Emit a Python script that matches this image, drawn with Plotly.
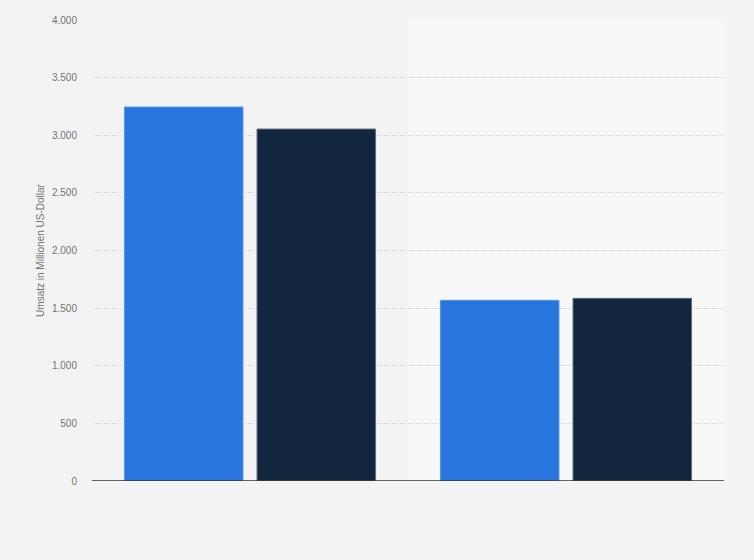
import plotly.graph_objects as go

categories = ["Gruppe 1", "Gruppe 2"]
series_a_name = "Serie A"
series_b_name = "Serie B"
series_a = [3245, 1568]
series_b = [3054, 1585]
y_ticks = [0, 500, 1000, 1500, 2000, 2500, 3000, 3500, 4000]

fig = go.Figure()
fig.add_trace(go.Bar(x=categories, y=series_a, name=series_a_name,
                     marker=dict(color="#2876dd", line=dict(color="#5a95e6", width=1))))
fig.add_trace(go.Bar(x=categories, y=series_b, name=series_b_name,
                     marker=dict(color="#12263d", line=dict(color="#5f6f80", width=1))))

fig.add_shape(type="rect", xref="x", yref="paper", x0=0.5, x1=1.5, y0=0, y1=1,
              fillcolor="#f8f8f8", line=dict(width=0), layer="below")

fig.update_layout(
    width=754, height=560,
    margin=dict(l=92, r=30, t=20, b=79),
    paper_bgcolor="#f3f3f3", plot_bgcolor="#f3f3f3",
    barmode="group", bargap=0.161, bargroupgap=0.106,
    showlegend=False,
    separators=",.",
    font=dict(family="Liberation Sans, Arial, sans-serif", size=10, color="#737373"),
)
fig.update_xaxes(showticklabels=False, showgrid=False, zeroline=False,
                 showline=False, range=[-0.5, 1.5])
fig.update_yaxes(range=[0, 4000], tickvals=y_ticks, tickformat=",d",
                 showgrid=True, gridcolor="#d9d9d9", griddash="1px,1px", gridwidth=1,
                 zeroline=False, showline=False, ticks="", ticklen=0,
                 ticklabelstandoff=14,
                 title=dict(text="Umsatz in Millionen US-Dollar", font=dict(size=10, color="#737373"), standoff=5),
                 tickfont=dict(size=10, color="#737373"))
fig.add_shape(type="line", xref="paper", yref="y", x0=0, x1=1, y0=0, y1=0,
              line=dict(color="#333333", width=1.5), layer="above")

fig.write_html("out.html", config={"displayModeBar": False},
               post_script="document.body.style.margin='0';document.body.style.background='#f3f3f3';")
